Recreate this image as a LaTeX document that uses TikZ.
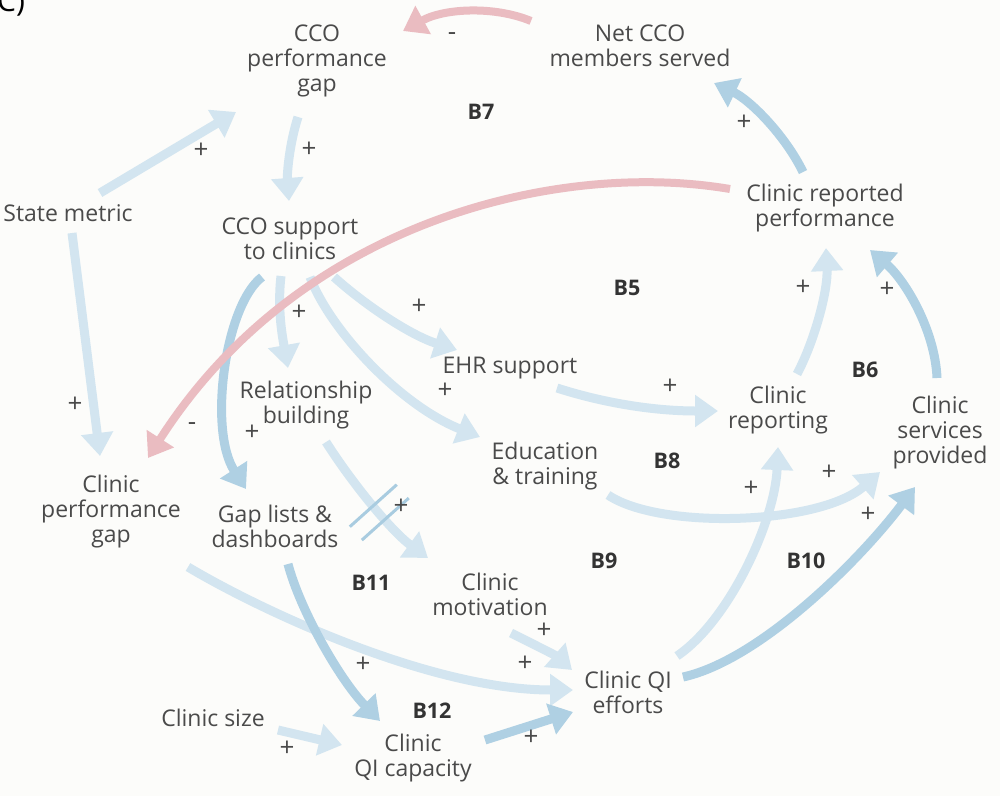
\documentclass[tikz,border=0pt]{standalone}
\usepackage{fontspec}
\setmainfont{Open Sans}
\usetikzlibrary{arrows.meta,calc}
\definecolor{lb}{HTML}{D3E5F0}
\definecolor{mb}{HTML}{AFD0E3}
\definecolor{pk}{HTML}{EABCC1}
\definecolor{hashc}{HTML}{A9CCE0}
\definecolor{txt}{HTML}{4A4A4A}
\definecolor{bgc}{HTML}{FCFCFA}
\begin{document}
\begin{tikzpicture}[x=1pt,y=-1pt,
  lbl/.style={text=txt, font=\fontsize{23}{25}\selectfont, align=center, inner sep=0pt},
  looplbl/.style={text=black!80, font=\fontsize{21.5}{25}\selectfont\bfseries, inner sep=0pt},
  sgn/.style={text=txt, font=\fontsize{26}{25}\selectfont, inner sep=0pt, text height=1.5ex, text depth=0pt},
  conn/.style={line width=9pt, -{Triangle[width=31pt,length=23pt]}},
  lite/.style={conn, draw=lb},
  midc/.style={conn, draw=mb},
  neg/.style={conn, draw=pk, line width=8pt},
  hashbox/.style={sloped, inner sep=0pt, minimum width=9pt, minimum height=54pt}]
\useasboundingbox (0,0) rectangle (1000,796);
\clip (0,0) rectangle (1000,796);
\fill[bgc] (0,0) rectangle (1000,796);
\node[anchor=base west, inner sep=0pt, font=\fontsize{30}{30}\selectfont] (panel) at (-3,11) {C)};

% variables
\node[lbl] (CCOgap) at (317,61) {CCO\\performance\\gap};
\node[lbl] (NetCCO) at (640,46) {Net CCO\\members served};
\node[lbl] (State) at (68,213) {State metric};
\node[lbl] (CCOsup) at (290,239) {CCO support\\to clinics};
\node[lbl] (CRP) at (825,208) {Clinic reported\\performance};
\node[lbl] (Rel) at (306,405) {Relationship\\building};
\node[lbl] (EHR) at (510,368) {EHR support};
\node[lbl] (Edu) at (545,466) {Education\\\& training};
\node[lbl] (CRep) at (778,410) {Clinic\\reporting};
\node[lbl] (Serv) at (940,433) {Clinic\\services\\provided};
\node[lbl] (CPG) at (111,512) {Clinic\\performance\\gap};
\node[lbl] (Gap) at (275,526) {Gap lists \&\\dashboards};
\node[lbl] (Mot) at (490,594) {Clinic\\motivation};
\node[lbl] (QIe) at (628,692) {Clinic QI\\efforts};
\node[lbl] (Size) at (213,718) {Clinic size};
\node[lbl] (QIc) at (413,758) {Clinic\\QI capacity};

% loop labels
\node[looplbl] (B7) at (481,112) {B7};
\node[looplbl] (B5) at (627,288) {B5};
\node[looplbl] (B6) at (865,370) {B6};
\node[looplbl] (B8) at (667,461) {B8};
\node[looplbl] (B9) at (604,561) {B9};
\node[looplbl] (B10) at (806,561) {B10};
\node[looplbl] (B11) at (371,583) {B11};
\node[looplbl] (B12) at (432,711) {B12};

% light blue links
\draw[lite] ([shift={(32,-20)}]State.center) -- ([shift={(-81,51)}]CCOgap.center);
\draw[lite] ([shift={(-19,56)}]CCOgap.center) .. controls (289,145) and (287,175) .. ([shift={(-1,-38)}]CCOsup.center);
\draw[lite] ([shift={(4,20)}]State.center) -- ([shift={(-11,-56)}]CPG.center);
\draw[lite] ([shift={(-9,37)}]CCOsup.center) .. controls (277,310) and (283,340) .. ([shift={(-18,-37)}]Rel.center);
\draw[lite] ([shift={(44,38)}]CCOsup.center) .. controls (365,305) and (410,335) .. ([shift={(-53,-18)}]EHR.center);
\draw[lite] ([shift={(20,38)}]CCOsup.center) .. controls (330,330) and (400,405) .. ([shift={(-65,-29)}]Edu.center);
\draw[lite] ([shift={(20,37)}]Rel.center) .. controls (350,480) and (390,530) .. ([shift={(-62,-36)}]Mot.center)
  node[hashbox, pos=0.57] (delay) {};
\draw[hashc, line width=3pt] (delay.north west) -- (delay.south west) (delay.north east) -- (delay.south east);
\draw[lite] ([shift={(47,20)}]EHR.center) .. controls (610,405) and (660,411) .. ([shift={(-60,1)}]CRep.center);
\draw[lite] ([shift={(19,-36)}]CRep.center) .. controls (815,340) and (828,290) .. ([shift={(1,40)}]CRP.center);
\draw[lite] ([shift={(63,29)}]Edu.center) .. controls (660,530) and (820,525) .. ([shift={(-60,39)}]Serv.center);
\draw[lite] ([shift={(49,-36)}]QIe.center) .. controls (730,620) and (775,520) .. ([shift={(0,37)}]CRep.center);
\draw[lite] ([shift={(77,55)}]CPG.center) .. controls (260,610) and (430,690) .. ([shift={(-55,-2)}]QIe.center);
\draw[lite] ([shift={(21,39)}]Mot.center) .. controls (535,645) and (555,655) .. ([shift={(-56,-22)}]QIe.center);
\draw[lite] ([shift={(65,12)}]Size.center) -- ([shift={(-71,-13)}]QIc.center);

% medium blue links
\draw[midc] ([shift={(-22,-36)}]CRP.center) .. controls (785,135) and (750,100) .. ([shift={(74,37)}]NetCCO.center);
\draw[midc] ([shift={(-28,38)}]CCOsup.center) .. controls (225,305) and (208,430) .. ([shift={(-29,-37)}]Gap.center);
\draw[midc] ([shift={(-3,-55)}]Serv.center) .. controls (935,330) and (905,280) .. ([shift={(45,42)}]CRP.center);
\draw[midc] ([shift={(55,-15)}]QIe.center) .. controls (760,660) and (860,560) .. ([shift={(-25,54)}]Serv.center);
\draw[midc] ([shift={(13,38)}]Gap.center) .. controls (300,610) and (340,680) .. ([shift={(-33,-37)}]QIc.center);
\draw[midc] ([shift={(72,-18)}]QIc.center) -- ([shift={(-55,20)}]QIe.center);

% negative links
\draw[neg] ([shift={(-109,-25)}]NetCCO.center) .. controls (495,6) and (445,8) .. ([shift={(86,-30)}]CCOgap.center);
\draw[neg] ([shift={(-95,-19)}]CRP.center) .. controls (560,160) and (300,220) .. ([shift={(37,-54)}]CPG.center);

% polarity signs
\node[sgn] (s1) at (452,36) {-};
\node[sgn] (s2) at (201,154) {+};
\node[sgn] (s3) at (309,153) {+};
\node[sgn] (s4) at (744,126) {+};
\node[sgn] (s5) at (299,316) {+};
\node[sgn] (s6) at (419,310) {+};
\node[sgn] (s7) at (445,394) {+};
\node[sgn] (s8) at (75,408) {+};
\node[sgn] (s9) at (192,426) {-};
\node[sgn] (s10) at (252,436) {+};
\node[sgn] (s11) at (401,510) {+};
\node[sgn] (s12) at (670,390) {+};
\node[sgn] (s13) at (803,291) {+};
\node[sgn] (s14) at (887,293) {+};
\node[sgn] (s15) at (829,476) {+};
\node[sgn] (s16) at (751,492) {+};
\node[sgn] (s17) at (868,518) {+};
\node[sgn] (s18) at (544,634) {+};
\node[sgn] (s19) at (525,667) {+};
\node[sgn] (s20) at (531,741) {+};
\node[sgn] (s21) at (363,668) {+};
\node[sgn] (s22) at (287,752) {+};
\end{tikzpicture}
\end{document}
